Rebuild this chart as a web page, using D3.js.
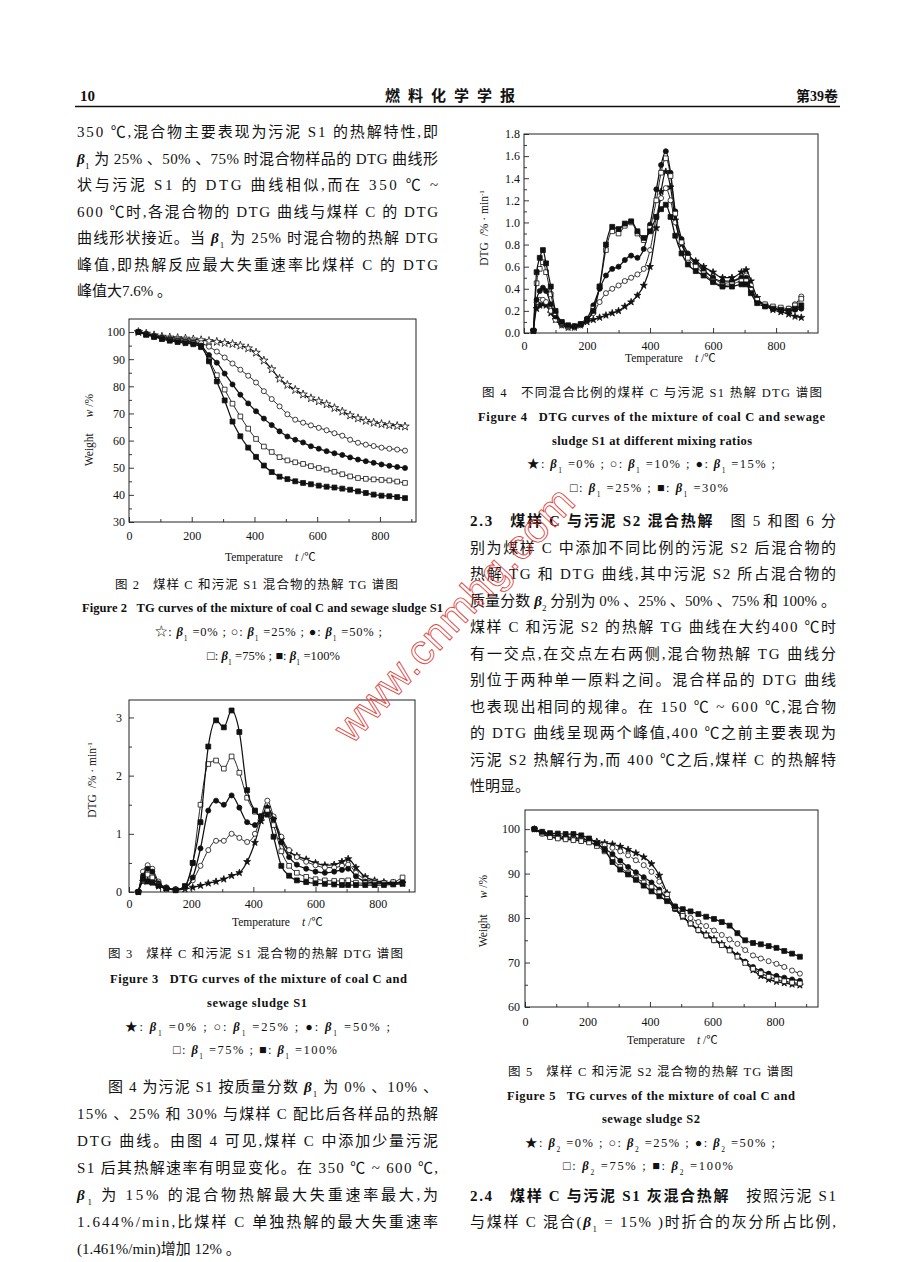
<!DOCTYPE html>
<html>
<head>
<meta charset="utf-8">
<title>燃料化学学报 第39卷 p.10</title>
<script src="https://cdn.jsdelivr.net/npm/d3@7/dist/d3.min.js"></script>
<style>
  html, body { margin: 0; padding: 0; background: #fff; }
  svg { display: block; font-family: "Liberation Serif", "Noto Sans CJK SC", serif; }
  text { white-space: pre; fill: #111; }
</style>
</head>
<body>
<svg id="page" width="904" height="1262"></svg>
<script>

// ---- shared ticks ----
var xTickLabels = [0, 200, 400, 600, 800];
var fig2YTicks = [30, 40, 50, 60, 70, 80, 90, 100];
var fig3YTicks = [0, 1, 2, 3];
var fig4YTicks = [0, 0.2, 0.4, 0.6, 0.8, 1.0, 1.2, 1.4, 1.6, 1.8];
var fig5YTicks = [60, 70, 80, 90, 100];

// ---- Figure 2: TG, coal C + sludge S1 (beta1 = 0, 25, 50, 75, 100 %) ----
var fig2Temp = [30,55,80,105,130,155,180,205,230,255,280,305,330,355,380,405,430,455,480,505,530,555,580,605,630,655,680,705,730,755,780,805,830,855,880];
var fig2B0   = [100,99.4,98.8,98.3,98.0,97.8,97.6,97.3,97.0,96.7,96.4,96.0,95.6,95.0,94.0,92.4,89.5,86.3,82.8,80.5,78.7,77.0,75.6,74.5,73.4,72.0,70.7,69.3,68.2,67.3,66.6,66.1,65.7,65.4,65.2];
var fig2B25  = [100,99.3,98.6,98.0,97.6,97.3,97.0,96.6,95.9,94.6,92.8,90.6,88.4,86.1,83.9,81.4,78.2,75.3,72.6,69.7,67.7,66.6,65.6,64.7,63.8,62.7,61.8,60.3,59.2,58.5,58.0,57.4,57.0,56.7,56.3];
var fig2B50  = [100,99.2,98.4,97.8,97.3,96.9,96.6,96.2,95.0,91.5,88.7,84.7,80.7,76.9,73.7,70.8,68.1,65.7,63.4,61.5,60.3,59.3,57.9,57.0,56.1,55.3,54.7,53.8,53.0,52.4,51.8,51.2,50.7,50.3,49.9];
var fig2B75  = [100,99.1,98.3,97.6,97.1,96.7,96.3,95.9,94.4,89.8,84.1,78.8,73.6,68.9,64.4,60.6,57.8,55.8,53.9,52.7,52.0,51.4,50.6,49.9,49.3,48.5,47.6,46.8,46.2,45.9,45.7,45.5,45.3,44.9,44.4];
var fig2B100 = [100,99.0,98.2,97.4,96.8,96.3,95.9,95.5,94.6,89.2,81.8,74.8,67.0,61.6,57.4,54.0,50.8,48.4,46.7,45.8,45.0,44.4,43.9,43.4,43.0,42.7,42.3,41.9,41.3,40.7,40.1,39.7,39.5,39.2,38.8];

// ---- Figure 3: DTG, coal C + sludge S1 ----
var fig3Temp = [30,45,60,75,95,120,150,180,205,230,255,280,305,330,355,380,405,425,445,465,490,515,540,570,600,630,660,685,705,730,760,790,820,850,880];
var fig3B0   = [0,0.18,0.2,0.17,0.1,0.06,0.04,0.05,0.08,0.11,0.15,0.18,0.22,0.28,0.33,0.52,0.85,1.22,1.45,1.25,0.9,0.7,0.62,0.56,0.5,0.46,0.47,0.52,0.57,0.42,0.26,0.2,0.17,0.16,0.15];
var fig3B25  = [0,0.35,0.46,0.4,0.18,0.08,0.05,0.07,0.2,0.45,0.72,0.88,0.88,1.0,0.93,0.86,1.0,1.3,1.57,1.3,0.95,0.72,0.6,0.52,0.46,0.42,0.42,0.45,0.47,0.33,0.22,0.18,0.16,0.16,0.18];
var fig3B50  = [0,0.28,0.4,0.35,0.15,0.07,0.04,0.08,0.25,0.75,1.4,1.57,1.5,1.66,1.45,1.2,1.15,1.28,1.45,1.25,0.85,0.6,0.47,0.4,0.35,0.33,0.35,0.38,0.4,0.27,0.18,0.16,0.15,0.15,0.17];
var fig3B75  = [0,0.2,0.3,0.25,0.12,0.06,0.04,0.1,0.5,1.5,2.2,2.26,2.12,2.33,2.05,1.62,1.38,1.3,1.4,1.15,0.7,0.45,0.33,0.26,0.22,0.2,0.19,0.19,0.2,0.16,0.15,0.15,0.15,0.17,0.25];
var fig3B100 = [0,0.22,0.18,0.16,0.11,0.06,0.03,0.1,0.5,1.2,2.5,2.95,2.83,3.12,2.75,1.75,1.4,1.3,1.33,0.95,0.45,0.28,0.2,0.17,0.15,0.14,0.13,0.12,0.12,0.12,0.12,0.12,0.12,0.13,0.14];

// ---- Figure 4: DTG, coal C + sludge S1 (beta1 = 0, 10, 15, 25, 30 %) ----
var fig4Temp = [30,40,50,60,70,85,100,120,140,160,180,200,220,240,260,280,300,320,340,360,380,400,420,435,450,465,480,500,520,545,570,600,630,660,690,705,720,740,765,790,815,840,860,880];
var fig4B0  = [0.02,0.22,0.25,0.26,0.25,0.18,0.12,0.07,0.05,0.05,0.07,0.1,0.12,0.14,0.16,0.18,0.2,0.24,0.28,0.34,0.43,0.6,0.95,1.28,1.46,1.32,1.02,0.8,0.7,0.65,0.6,0.55,0.5,0.5,0.55,0.57,0.47,0.32,0.25,0.21,0.19,0.17,0.15,0.14];
var fig4B10 = [0.02,0.28,0.3,0.3,0.28,0.2,0.12,0.07,0.05,0.05,0.07,0.12,0.18,0.28,0.36,0.4,0.43,0.47,0.5,0.53,0.58,0.75,1.05,1.22,1.31,1.2,1.0,0.82,0.7,0.62,0.56,0.5,0.45,0.46,0.5,0.52,0.43,0.3,0.25,0.22,0.21,0.22,0.26,0.33];
var fig4B15 = [0.02,0.3,0.38,0.41,0.38,0.26,0.15,0.08,0.06,0.06,0.08,0.13,0.25,0.4,0.52,0.58,0.6,0.66,0.7,0.68,0.76,0.98,1.3,1.52,1.644,1.45,1.1,0.85,0.72,0.64,0.57,0.5,0.47,0.47,0.5,0.5,0.4,0.29,0.25,0.23,0.21,0.2,0.21,0.22];
var fig4B25 = [0.02,0.45,0.58,0.64,0.55,0.35,0.18,0.09,0.06,0.06,0.08,0.12,0.22,0.42,0.75,0.92,0.9,0.97,1.0,0.9,0.84,0.95,1.2,1.45,1.58,1.42,1.08,0.82,0.68,0.6,0.54,0.47,0.43,0.44,0.47,0.47,0.39,0.3,0.26,0.24,0.23,0.22,0.25,0.31];
var fig4B30 = [0.02,0.55,0.68,0.75,0.63,0.42,0.2,0.1,0.07,0.06,0.08,0.12,0.2,0.42,0.8,0.96,0.94,0.99,1.01,0.92,0.86,0.92,1.05,1.12,1.16,1.05,0.88,0.72,0.62,0.56,0.52,0.46,0.42,0.42,0.44,0.44,0.36,0.27,0.24,0.22,0.21,0.2,0.22,0.25];

// ---- Figure 5: TG, coal C + sludge S2 (beta2 = 0, 25, 50, 75, 100 %) ----
var fig5Temp = [30,55,80,105,130,155,180,205,230,255,280,305,330,355,380,405,430,455,480,505,530,555,580,605,630,655,680,705,730,755,780,805,830,855,880];
var fig5B0   = [100,99.2,98.7,98.3,98.1,97.9,97.7,97.5,97.2,96.9,96.6,96.1,95.4,94.6,93.7,92.2,89.6,85.6,82.2,80.3,78.8,77.5,76.4,75.3,74.2,73.0,71.6,70.0,68.3,67.0,66.2,65.7,65.4,65.1,64.9];
var fig5B25  = [100,99.3,98.8,98.5,98.3,98.1,97.9,97.6,97.0,96.4,95.8,95.0,94.1,93.0,91.9,90.4,88.2,85.3,82.6,81.0,80.0,79.1,78.2,77.2,76.2,75.2,74.2,72.8,71.6,70.9,70.3,69.7,69.0,68.2,67.5];
var fig5B50  = [100,99.0,98.3,98.0,97.8,97.6,97.4,97.1,96.5,95.6,94.4,92.9,91.5,90.3,89.2,88.0,86.4,84.3,82.0,80.3,78.7,77.2,76.0,75.0,74.0,72.9,71.6,70.2,69.0,68.1,67.5,67.0,66.6,66.2,65.9];
var fig5B75  = [100,99.0,98.2,97.9,97.7,97.5,97.3,97.0,96.2,95.0,93.3,91.5,90.1,89.0,88.0,87.0,85.8,84.3,82.3,80.5,78.8,77.3,76.1,75.0,73.9,72.7,71.3,69.9,68.6,67.6,66.8,66.2,65.8,65.5,65.3];
var fig5B100 = [100,99.4,99.1,99.0,98.9,98.9,98.6,97.9,96.8,95.3,92.6,90.9,89.8,88.6,87.3,86.0,84.9,83.8,82.6,82.0,81.5,80.9,80.3,79.8,79.1,78.3,76.6,75.0,74.4,74.1,73.7,73.3,72.6,72.0,71.3];

// ---- page text ----
var leftPara1 = [
  "350 ℃,混合物主要表现为污泥 S1 的热解特性,即",
  "{b1} 为 25% 、50% 、75% 时混合物样品的 DTG 曲线形",
  "状与污泥 S1 的 DTG 曲线相似,而在 350 ℃ ~",
  "600 ℃时,各混合物的 DTG 曲线与煤样 C 的 DTG",
  "曲线形状接近。当 {b1} 为 25% 时混合物的热解 DTG",
  "峰值,即热解反应最大失重速率比煤样 C 的 DTG",
  "峰值大7.6% 。"
];
var leftPara2 = [
  "图 4 为污泥 S1 按质量分数 {b1} 为 0% 、10% 、",
  "15% 、25% 和 30% 与煤样 C 配比后各样品的热解",
  "DTG 曲线。由图 4 可见,煤样 C 中添加少量污泥",
  "S1 后其热解速率有明显变化。在 350 ℃ ~ 600 ℃,",
  "{b1} 为 15% 的混合物热解最大失重速率最大,为",
  "1.644%/min,比煤样 C 单独热解的最大失重速率",
  "(1.461%/min)增加 12% 。"
];
var rightPara1 = [
  "**2.3   煤样 C 与污泥 S2 混合热解**   图 5 和图 6 分",
  "别为煤样 C 中添加不同比例的污泥 S2 后混合物的",
  "热解 TG 和 DTG 曲线,其中污泥 S2 所占混合物的",
  "质量分数 {b2} 分别为 0% 、25% 、50% 、75% 和 100% 。",
  "煤样 C 和污泥 S2 的热解 TG 曲线在大约400 ℃时",
  "有一交点,在交点左右两侧,混合物热解 TG 曲线分",
  "别位于两种单一原料之间。混合样品的 DTG 曲线",
  "也表现出相同的规律。在 150 ℃ ~ 600 ℃,混合物",
  "的 DTG 曲线呈现两个峰值,400 ℃之前主要表现为",
  "污泥 S2 热解行为,而 400 ℃之后,煤样 C 的热解特",
  "性明显。"
];
var rightPara2 = [
  "**2.4   煤样 C 与污泥 S1 灰混合热解**   按照污泥 S1",
  "与煤样 C 混合({b1} = 15% )时折合的灰分所占比例,"
];

var svg = d3.select("#page");
svg.append("rect").attr("width", 904).attr("height", 1262).attr("fill", "#fff");

// text with inline beta subscripts and bold runs
function addRich(parent, str, o) {
  var size = o.size || 15;
  var t = parent.append("text")
    .attr("x", o.x).attr("y", o.y)
    .attr("font-size", size)
    .attr("text-anchor", o.anchor || "start");
  if (o.weight) t.attr("font-weight", o.weight);
  if (o.len) t.attr("textLength", o.len).attr("lengthAdjust", "spacing");
  str.split(/(\{b[12]\}|\*\*.+?\*\*)/).forEach(function(p) {
    if (!p) return;
    var m = /^\{b([12])\}$/.exec(p);
    if (m) {
      t.append("tspan").attr("font-style", "italic").attr("font-weight", "bold").text("β");
      t.append("tspan").attr("font-size", size * 0.6).attr("baseline-shift", "sub").text(m[1]);
    } else if (/^\*\*/.test(p)) {
      t.append("tspan").attr("font-weight", "bold").text(p.slice(2, -2));
    } else {
      t.append("tspan").text(p);
    }
  });
  return t;
}

function para(lines, o) {
  lines.forEach(function(line, i) {
    var ind = i === 0 ? (o.indent || 0) : 0;
    var full = i < lines.length - 1 || o.lastFull;
    addRich(svg, line, { x: o.x + ind, y: o.y + i * o.lh, len: full ? o.width - ind : null, size: o.size });
  });
}

// ---- header ----
svg.append("text").attr("x", 80).attr("y", 101).attr("font-size", 15).attr("font-weight", "bold").text("10");
svg.append("text").attr("x", 385).attr("y", 101).attr("font-size", 15).attr("font-weight", "bold")
  .attr("textLength", 130).attr("lengthAdjust", "spacing").text("燃料化学学报");
svg.append("text").attr("x", 838).attr("y", 101).attr("font-size", 14).attr("font-weight", "bold")
  .attr("text-anchor", "end").text("第39卷");
svg.append("line").attr("x1", 75).attr("x2", 840).attr("y1", 106.5).attr("y2", 106.5)
  .attr("stroke", "#111").attr("stroke-width", 1.3);

// ---- body text ----
para(leftPara1, { x: 77, y: 137, lh: 26.5, width: 361 });
para(leftPara2, { x: 77, y: 1092, lh: 27, width: 361, indent: 31 });
para(rightPara1, { x: 470, y: 526, lh: 26.5, width: 366 });
para(rightPara2, { x: 470, y: 1201, lh: 26, width: 366, lastFull: true });

// ---- charts ----
var markerStyles = [
  { type: d3.symbolStar,   filled: true,  size: 15 },
  { type: d3.symbolCircle, filled: false, size: 20 },
  { type: d3.symbolCircle, filled: true,  size: 20 },
  { type: d3.symbolSquare, filled: false, size: 22 },
  { type: d3.symbolSquare, filled: true,  size: 24 }
];

function drawChart(cfg) {
  var g = svg.append("g");
  var x = d3.scaleLinear().domain([0, cfg.xMax]).range([cfg.left, cfg.right]);
  var y = d3.scaleLinear().domain([cfg.yMin, cfg.yMax]).range([cfg.bottom, cfg.top]);

  g.append("g").attr("transform", "translate(0," + cfg.bottom + ")")
    .call(d3.axisBottom(x).tickValues(xTickLabels).tickSize(-5).tickPadding(cfg.xPad).tickFormat(d3.format("d")));
  g.append("g").attr("transform", "translate(0," + cfg.bottom + ")")
    .call(d3.axisBottom(x).tickValues(d3.range(100, cfg.xMax, 200)).tickSize(-3).tickFormat(""));
  g.append("g").attr("transform", "translate(" + cfg.left + ",0)")
    .call(d3.axisLeft(y).tickValues(cfg.yTicks).tickSize(-5).tickPadding(cfg.yPad).tickFormat(cfg.yFmt));
  g.append("g").attr("transform", "translate(" + cfg.left + ",0)")
    .call(d3.axisLeft(y).tickValues(cfg.yMinor).tickSize(-3).tickFormat(""));
  g.selectAll(".domain").remove();
  g.selectAll(".tick line").attr("stroke", "#222").attr("stroke-width", 0.9);
  g.selectAll("g").attr("font-family", null).attr("font-size", 12);

  g.append("rect")
    .attr("x", cfg.left).attr("y", cfg.top)
    .attr("width", cfg.right - cfg.left).attr("height", cfg.bottom - cfg.top)
    .attr("fill", "none").attr("stroke", "#222").attr("stroke-width", 1);

  var line = d3.line().curve(d3.curveMonotoneX);
  cfg.series.forEach(function(vals, k) {
    var st = markerStyles[k];
    var pts = cfg.temps.map(function(t, i) { return [x(t), y(vals[i])]; });
    g.append("path").datum(pts).attr("d", line)
      .attr("fill", "none").attr("stroke", "#111")
      .attr("stroke-width", st.filled ? 1.25 : 0.9)
      .attr("stroke-dasharray", cfg.dashed === k ? "4,2" : null);
    var filled = st.filled && !(k === 0 && cfg.openStar);
    var sym = d3.symbol().type(st.type).size(filled || k !== 0 ? st.size : 22);
    g.selectAll(null).data(pts).enter().append("path")
      .attr("transform", function(d) { return "translate(" + d[0] + "," + d[1] + ")"; })
      .attr("d", sym)
      .attr("fill", filled ? "#111" : "#fff")
      .attr("stroke", "#111").attr("stroke-width", 0.8);
  });

  // x label
  var xl = g.append("text").attr("x", cfg.left + cfg.xLabelDx).attr("y", cfg.xLabelY).attr("font-size", 11.5);
  xl.append("tspan").text("Temperature");
  xl.append("tspan").attr("dx", 12).attr("font-style", "italic").text("t");
  xl.append("tspan").text(" /℃");

  // y label
  var yl = g.append("text")
    .attr("transform", "translate(" + cfg.yLabelX + "," + cfg.yLabelY + ") rotate(-90)")
    .attr("text-anchor", "middle").attr("font-size", 11.5);
  if (cfg.kind === "TG") {
    yl.append("tspan").text("Weight");
    yl.append("tspan").attr("dx", 16).attr("font-style", "italic").text("w");
    yl.append("tspan").text(" /%");
  } else {
    yl.append("tspan").text("DTG  /% · min");
    yl.append("tspan").attr("font-size", 7).attr("baseline-shift", "super").text("-1");
  }
}

drawChart({
  left: 129, right: 416, top: 319, bottom: 522, xMax: 915, yMin: 30, yMax: 104.8,
  yTicks: fig2YTicks, yMinor: d3.range(35, 100, 10), yFmt: d3.format("d"), yPad: 4, xPad: 9,
  temps: fig2Temp, series: [fig2B0, fig2B25, fig2B50, fig2B75, fig2B100], openStar: true,
  kind: "TG", xLabelDx: 96, xLabelY: 561, yLabelX: 93, yLabelY: 430
});
drawChart({
  left: 129, right: 415, top: 700, bottom: 892, xMax: 920, yMin: 0, yMax: 3.3,
  yTicks: fig3YTicks, yMinor: [0.5, 1.5, 2.5], yFmt: d3.format("d"), yPad: 7, xPad: 7,
  temps: fig3Temp, series: [fig3B0, fig3B25, fig3B50, fig3B75, fig3B100],
  kind: "DTG", xLabelDx: 103, xLabelY: 926, yLabelX: 96, yLabelY: 780
});
drawChart({
  left: 524, right: 818, top: 134, bottom: 333, xMax: 933, yMin: 0, yMax: 1.8,
  yTicks: fig4YTicks, yMinor: d3.range(0.1, 1.8, 0.2), yFmt: d3.format(".1f"), yPad: 4, xPad: 8,
  temps: fig4Temp, series: [fig4B0, fig4B10, fig4B15, fig4B25, fig4B30],
  kind: "DTG", xLabelDx: 101, xLabelY: 362, yLabelX: 488, yLabelY: 228
});
drawChart({
  left: 525, right: 818, top: 810, bottom: 1007, xMax: 938, yMin: 60, yMax: 104.3,
  yTicks: fig5YTicks, yMinor: d3.range(65, 100, 10), yFmt: d3.format("d"), yPad: 5, xPad: 10,
  temps: fig5Temp, series: [fig5B0, fig5B25, fig5B50, fig5B75, fig5B100], dashed: 1,
  kind: "TG", xLabelDx: 102, xLabelY: 1044, yLabelX: 487, yLabelY: 911
});

// ---- figure captions ----
function caption(lines) {
  lines.forEach(function(c) {
    addRich(svg, c[0], { x: c[1], y: c[2], len: c[3], size: c[4] || 12.5, weight: c[5] });
  });
}
caption([
  ["图 2   煤样 C 和污泥 S1 混合物的热解 TG 谱图", 115, 589, 283],
  ["Figure 2   TG curves of the mixture of coal C and sewage sludge S1", 82, 612, 361, 12.5, "bold"],
  ["☆: {b1} =0% ; ○: {b1} =25% ; ●: {b1} =50% ;", 155, 636, 227],
  ["□: {b1} =75% ; ■: {b1} =100%", 207, 660, 133],

  ["图 3   煤样 C 和污泥 S1 混合物的热解 DTG 谱图", 108, 958, 295],
  ["Figure 3   DTG curves of the mixture of coal C and", 110, 983, 297, 12.5, "bold"],
  ["sewage sludge S1", 207, 1007, 100, 12.5, "bold"],
  ["★: {b1} =0% ; ○: {b1} =25% ; ●: {b1} =50% ;", 125, 1031, 265],
  ["□: {b1} =75% ; ■: {b1} =100%", 173, 1054, 164],

  ["图 4   不同混合比例的煤样 C 与污泥 S1 热解 DTG 谱图", 482, 397, 340],
  ["Figure 4   DTG curves of the mixture of coal C and sewage", 478, 421, 347, 12.5, "bold"],
  ["sludge S1 at different mixing ratios", 552, 445, 200, 12.5, "bold"],
  ["★: {b1} =0% ; ○: {b1} =10% ; ●: {b1} =15% ;", 527, 468, 248],
  ["□: {b1} =25% ; ■: {b1} =30%", 570, 492, 158],

  ["图 5   煤样 C 和污泥 S2 混合物的热解 TG 谱图", 508, 1076, 285],
  ["Figure 5   TG curves of the mixture of coal C and", 507, 1100, 288, 12.5, "bold"],
  ["sewage sludge S2", 602, 1123, 98, 12.5, "bold"],
  ["★: {b2} =0% ; ○: {b2} =25% ; ●: {b2} =50% ;", 525, 1147, 250],
  ["□: {b2} =75% ; ■: {b2} =100%", 563, 1170, 170]
]);

// ---- scan watermark ----
svg.append("text")
  .attr("transform", "translate(352,745) rotate(-47)")
  .attr("font-family", "Liberation Sans").attr("font-size", 42)
  .attr("textLength", 330).attr("lengthAdjust", "spacing")
  .style("fill", "none").attr("stroke", "#e0463f").attr("stroke-width", 0.9)
  .text("www.cnmhg.com");

</script>
</body>
</html>
